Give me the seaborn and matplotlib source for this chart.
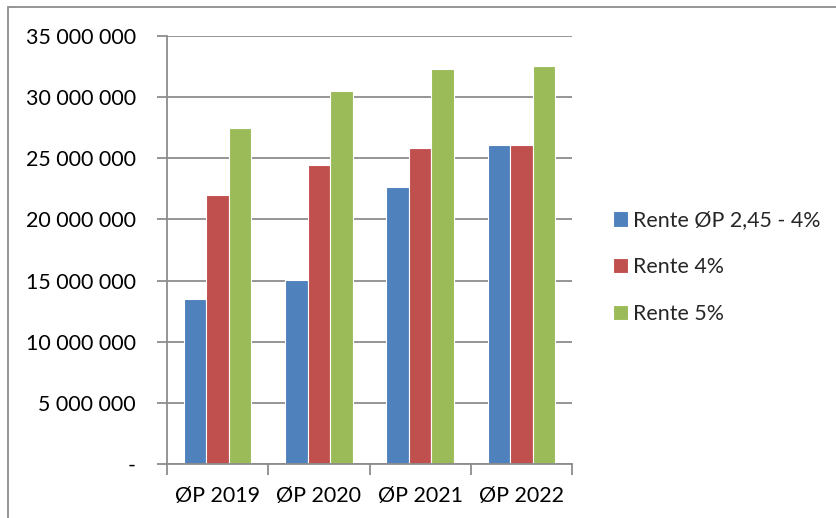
import numpy as np
import pandas as pd
import seaborn as sns
import matplotlib.pyplot as plt
from matplotlib.patches import Rectangle
from matplotlib.ticker import FuncFormatter, FixedLocator

categories = ["ØP 2019", "ØP 2020", "ØP 2021", "ØP 2022"]
series_names = ["Rente ØP 2,45 - 4%", "Rente 4%", "Rente 5%"]
rente_op = [13490000, 15050000, 22630000, 26090000]
rente_4 = [21970000, 24430000, 25870000, 26060000]
rente_5 = [27450000, 30530000, 32300000, 32550000]
colors = ["#4F81BD", "#C0504D", "#9BBB59"]

df = pd.DataFrame({
    "kategori": categories * 3,
    "serie": np.repeat(series_names, 4),
    "verdi": rente_op + rente_4 + rente_5,
})

sns.set_theme(style="white")
plt.rcParams['font.family'] = ['Lato', 'DejaVu Sans']

fig = plt.figure(figsize=(8.36, 5.18), dpi=100)
ax = fig.add_axes([167 / 836, 1 - 464 / 518, 405 / 836, 428 / 518])

sns.barplot(data=df, x="kategori", y="verdi", hue="serie", palette=colors,
            saturation=1, width=0.667, edgecolor="white", linewidth=0.8, ax=ax)

ax.set_ylim(0, 35000000)
ax.set_xlim(-0.5, 3.5)
ax.set_yticks(np.arange(0, 35000001, 5000000))
ax.yaxis.set_major_formatter(FuncFormatter(
    lambda v, p: "-" if v == 0 else f"{int(v):,}".replace(",", " ")))
ax.grid(axis="y", color="#8c8c8c", linewidth=1.3)
ax.set_axisbelow(True)

fs = 15.4
ax.xaxis.set_minor_locator(FixedLocator([-0.5, 0.5, 1.5, 2.5, 3.5]))
ax.tick_params(axis="x", which="major", length=0, pad=16, labelsize=fs, colors="black")
ax.tick_params(axis="x", which="minor", length=8, width=1.3, color="#8c8c8c", bottom=True)
ax.tick_params(axis="y", length=7, width=1.3, left=True, pad=15.5,
               labelsize=fs, color="#8c8c8c", labelcolor="black")

for s in ["top", "right"]:
    ax.spines[s].set_visible(False)
for s in ["left", "bottom"]:
    ax.spines[s].set_color("#8c8c8c")
    ax.spines[s].set_linewidth(1.3)

ax.set_xlabel("")
ax.set_ylabel("")

leg = ax.legend(loc="center left", bbox_to_anchor=(1.053, 0.46), frameon=False,
                fontsize=fs, handlelength=0.72, handleheight=0.72,
                handletextpad=0.25, labelspacing=1.25)

fig.patches.append(Rectangle((8 / 836, -0.1), 1.2, 1 - 7 / 518 + 0.1,
                             transform=fig.transFigure, fill=False,
                             edgecolor="#8c8c8c", linewidth=1.3))

fig.savefig("out.png", dpi=100)
